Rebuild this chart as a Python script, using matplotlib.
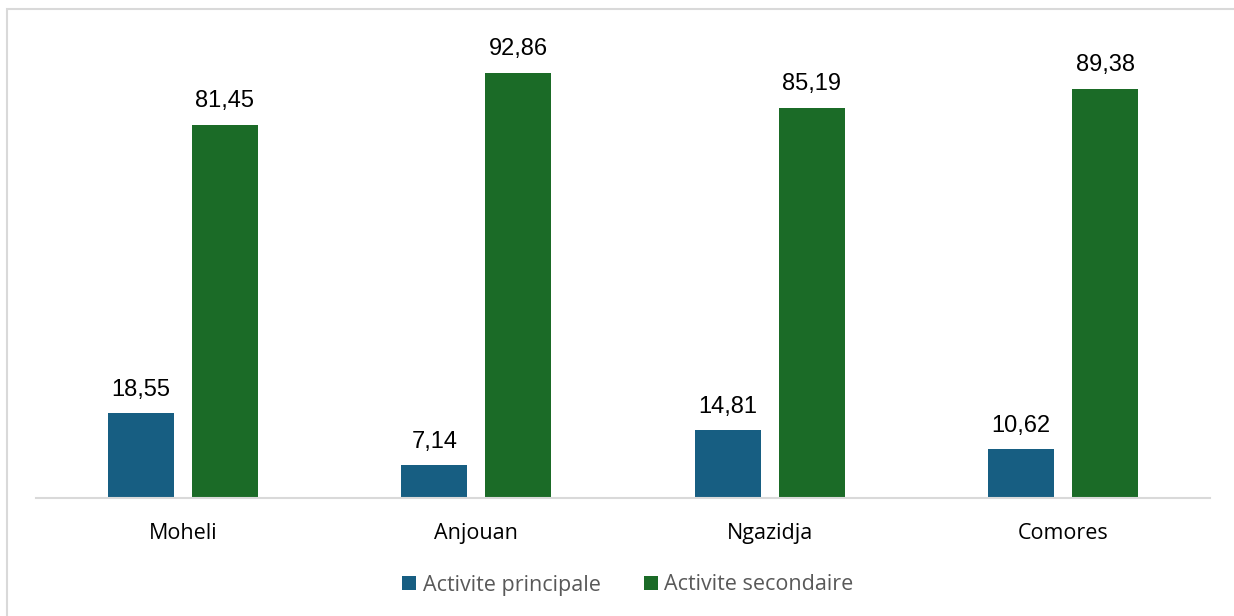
import matplotlib
matplotlib.use("Agg")
import matplotlib.pyplot as plt
import numpy as np
from matplotlib.patches import Rectangle

categories = ["Moheli", "Anjouan", "Ngazidja", "Comores"]
principale = [18.55, 7.14, 14.81, 10.62]
secondaire = [81.45, 92.86, 85.19, 89.38]
series_names = ["Activite principale", "Activite secondaire"]
colors = ["#175E82", "#1B6B27"]

W, H = 1234, 616
fig = plt.figure(figsize=(W/100, H/100), dpi=100)
fig.patch.set_facecolor("white")
fig.add_artist(Rectangle((7/W, -0.1), 1.2, (H-9)/H + 0.1, transform=fig.transFigure,
                         fill=False, edgecolor="#D9D9D9", linewidth=1.5))

ax = fig.add_axes([36/W, (H-498)/H, (1210-36)/W, (498-40)/H])
x = np.arange(len(categories))
bw = 0.225
off = 0.143
b1 = ax.bar(x - off, principale, bw, color=colors[0], label=series_names[0])
b2 = ax.bar(x + off, secondaire, bw, color=colors[1], label=series_names[1])
ax.set_xlim(-0.5, len(categories) - 0.5)
ax.set_ylim(0, 100)

def fmt(v):
    return f"{v:.2f}".replace(".", ",")

for bars, vals in ((b1, principale), (b2, secondaire)):
    for rect, v in zip(bars, vals):
        ax.annotate(fmt(v), (rect.get_x() + rect.get_width()/2, v),
                    xytext=(0, 9), textcoords="offset points", ha="center", va="bottom",
                    fontsize=17, family="Liberation Sans", color="#000000")

for s in ["top", "right", "left"]:
    ax.spines[s].set_visible(False)
ax.spines["bottom"].set_color("#D9D9D9")
ax.spines["bottom"].set_linewidth(1.5)
ax.set_yticks([])
ax.set_xticks(x)
ax.set_xticklabels(categories, fontsize=15.5, family="Open Sans", color="#000000")
ax.tick_params(axis="x", length=0, pad=18)

leg = fig.legend(handles=[b1, b2], labels=series_names, loc="center",
                 bbox_to_anchor=(628/W, (H-585)/H), ncol=2, frameon=False,
                 prop={"family": "Open Sans", "size": 15.5}, labelcolor="#595959",
                 handlelength=0.65, handleheight=0.65, handletextpad=0.3, columnspacing=2.0)

fig.savefig("out.png", dpi=100)
